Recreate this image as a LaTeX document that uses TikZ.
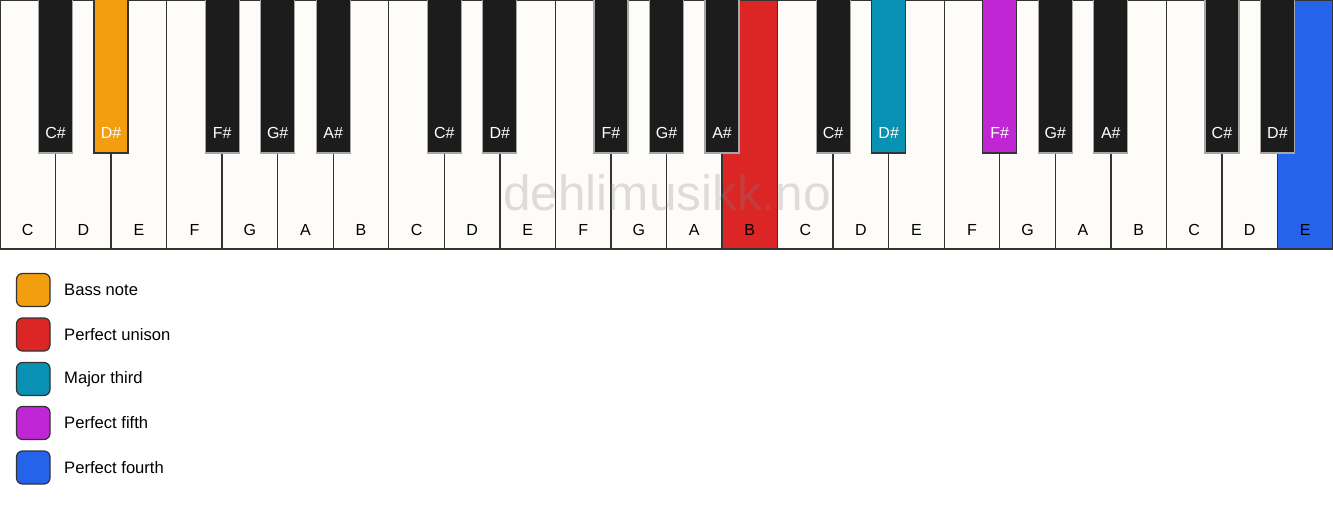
\documentclass[tikz,border=0pt]{standalone}
\usepackage{fontspec}
\setmainfont{Liberation Sans}
\definecolor{wk}{HTML}{FDFCF9}
\definecolor{bk}{HTML}{1C1C1C}
\definecolor{keyline}{HTML}{333333}
\definecolor{cBass}{HTML}{F29E0F}
\definecolor{cUnison}{HTML}{DC2626}
\definecolor{cThird}{HTML}{0891B2}
\definecolor{cFifth}{HTML}{C026D3}
\definecolor{cFourth}{HTML}{2563EB}
\tikzset{
  whitekey/.style={draw=keyline, line width=1.4pt},
  blackkey/.style={draw=#1, line width=1.2pt},
  keylabel/.style={font=\fontsize{16}{17}\selectfont, inner sep=0pt},
  legbox/.style={draw=keyline, line width=1.2pt, rounded corners=6pt},
  legtext/.style={font=\fontsize{16.6}{18}\selectfont, anchor=west, inner sep=0pt},
}
\begin{document}
\begin{tikzpicture}[x=1pt,y=-1pt]
\useasboundingbox (0,0) rectangle (1333,506);
\fill[white] (0,0) rectangle (1333,506);
\pgfmathsetmacro\w{1333/24}
% white keys
\foreach \i/\n/\c in {0/C/wk,1/D/wk,2/E/wk,3/F/wk,4/G/wk,5/A/wk,6/B/wk,
  7/C/wk,8/D/wk,9/E/wk,10/F/wk,11/G/wk,12/A/wk,13/B/cUnison,
  14/C/wk,15/D/wk,16/E/wk,17/F/wk,18/G/wk,19/A/wk,20/B/wk,
  21/C/wk,22/D/wk,23/E/cFourth}{
  \draw[whitekey, fill=\c] (\i*\w,0) rectangle ++(\w,249);
  \node[keylabel, text=black] (wl\i) at (\i*\w+\w/2,230) {\n};
}
% watermark
\node[font=\fontsize{49.5}{52}\selectfont, text=gray, text opacity=0.25, inner sep=0pt] (wm) at (667,193) {dehlimusikk.no};
% black keys
\foreach \b/\n/\c/\d in {1/C\#/bk/gray!70,2/D\#/cBass/keyline,4/F\#/bk/gray!70,5/G\#/bk/gray!70,6/A\#/bk/gray!70,
  8/C\#/bk/gray!70,9/D\#/bk/gray!70,11/F\#/bk/gray!70,12/G\#/bk/gray!70,13/A\#/bk/gray!70,
  15/C\#/bk/gray!70,16/D\#/cThird/keyline,18/F\#/cFifth/keyline,19/G\#/bk/gray!70,20/A\#/bk/gray!70,
  22/C\#/bk/gray!70,23/D\#/bk/gray!70}{
  \draw[blackkey=\d, fill=\c] (\b*\w-17,-1) rectangle (\b*\w+17,153);
  \node[keylabel, text=white] (bl\b) at (\b*\w,133) {\n};
}
% legend
\foreach \k/\y/\c/\t in {1/290/cBass/Bass note,2/334.5/cUnison/Perfect unison,3/379/cThird/Major third,4/423/cFifth/Perfect fifth,5/467.5/cFourth/Perfect fourth}{
  \draw[legbox, fill=\c] (16.5,\y-16.5) rectangle (50,\y+16.5);
  \node[legtext] (lt\k) at (64,\y) {\t};
}
\end{tikzpicture}
\end{document}
